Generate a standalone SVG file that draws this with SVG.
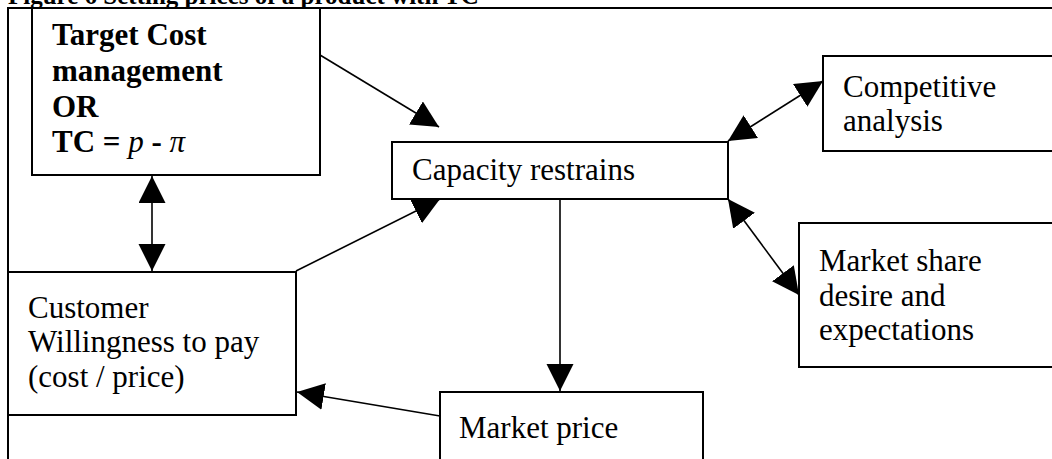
<svg xmlns="http://www.w3.org/2000/svg" width="1052" height="459" viewBox="0 0 1052 459">
  <style>
    .box { fill: #ffffff; stroke: #000000; stroke-width: 2; }
    .lbl { font-family: "Liberation Serif", "Times New Roman", serif; font-size: 31px; fill: #000000; }
    .bold { font-weight: bold; }
    .it { font-style: italic; font-weight: normal; }
    .conn { fill: none; stroke: #000000; stroke-width: 1.6; }
    .frame { fill: none; stroke: #000000; stroke-width: 2; }
  </style>
  <defs>
    <marker id="head" markerUnits="userSpaceOnUse" markerWidth="28" markerHeight="28" refX="27" refY="13.5" orient="auto-start-reverse" viewBox="0 0 28 28">
      <path d="M0,0 L27,13.5 L0,27 Z" fill="#000000"/>
    </marker>
  </defs>
  <rect width="1052" height="459" fill="#ffffff"/>

  <!-- caption, cropped by the top of the page -->
  <text x="8" y="4" font-family="Liberation Serif, 'Times New Roman', serif" font-size="25" font-weight="bold">Figure 6 Setting prices of a product with TC</text>

  <!-- surrounding frame -->
  <path class="frame" d="M8,459 V8 H1052"/>

  <g id="target-cost">
    <rect class="box" x="32" y="8" width="288" height="167"/>
    <text class="lbl bold" x="52" y="45">Target Cost</text>
    <text class="lbl bold" x="52" y="81">management</text>
    <text class="lbl bold" x="52" y="117">OR</text>
    <text class="lbl bold" x="52" y="152">TC = <tspan class="it">p</tspan> - <tspan class="it">π</tspan></text>
  </g>

  <g id="capacity-restrains">
    <rect class="box" x="392" y="142" width="336" height="57"/>
    <text class="lbl" x="412" y="180">Capacity restrains</text>
  </g>

  <g id="competitive-analysis">
    <rect class="box" x="823" y="56" width="240" height="95"/>
    <text class="lbl" x="843" y="97">Competitive</text>
    <text class="lbl" x="843" y="131">analysis</text>
  </g>

  <g id="market-share">
    <rect class="box" x="799" y="223" width="264" height="144"/>
    <text class="lbl" x="819" y="271">Market share</text>
    <text class="lbl" x="819" y="306">desire and</text>
    <text class="lbl" x="819" y="340">expectations</text>
  </g>

  <g id="customer-willingness">
    <rect class="box" x="8" y="272" width="288" height="143"/>
    <text class="lbl" x="28" y="318">Customer</text>
    <text class="lbl" x="28" y="352">Willingness to pay</text>
    <text class="lbl" x="28" y="387">(cost / price)</text>
  </g>

  <g id="market-price">
    <rect class="box" x="440" y="392" width="263" height="80"/>
    <text class="lbl" x="459" y="438">Market price</text>
  </g>

  <g id="connectors">
    <line class="conn" x1="320" y1="55" x2="439" y2="127" marker-end="url(#head)"/>
    <line class="conn" x1="296" y1="271" x2="440" y2="199" marker-end="url(#head)"/>
    <line class="conn" x1="560" y1="199" x2="560" y2="391" marker-end="url(#head)"/>
    <line class="conn" x1="440" y1="416" x2="297" y2="392" marker-end="url(#head)"/>
    <line class="conn" x1="728" y1="141" x2="823" y2="81" marker-start="url(#head)" marker-end="url(#head)"/>
    <line class="conn" x1="728" y1="199" x2="799" y2="295" marker-start="url(#head)" marker-end="url(#head)"/>
    <line class="conn" x1="152" y1="176" x2="152" y2="271" marker-start="url(#head)" marker-end="url(#head)"/>
  </g>
</svg>
